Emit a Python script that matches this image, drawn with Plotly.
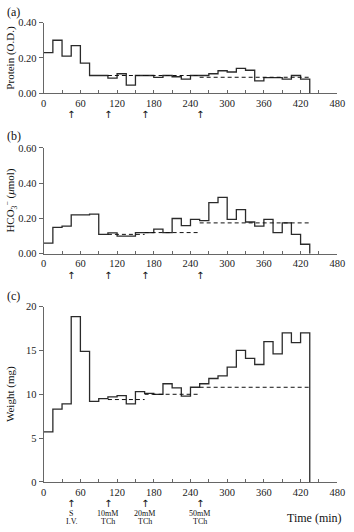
import plotly.graph_objects as go

# ---- data ----
bin_start = [0, 15, 30, 45, 60, 75, 90, 105, 120, 135, 150, 165, 180, 195, 210,
             225, 240, 255, 270, 285, 300, 315, 330, 345, 360, 375, 390, 405, 420]
bin_end = 435

protein = [0.23, 0.30, 0.21, 0.27, 0.17, 0.10, 0.10, 0.085, 0.11, 0.045, 0.10, 0.10,
           0.09, 0.10, 0.093, 0.08, 0.10, 0.10, 0.11, 0.127, 0.12, 0.14, 0.13, 0.07,
           0.088, 0.088, 0.08, 0.10, 0.08]
hco3 = [0.06, 0.15, 0.157, 0.22, 0.22, 0.225, 0.11, 0.118, 0.10, 0.10, 0.12, 0.12,
        0.14, 0.12, 0.20, 0.16, 0.195, 0.188, 0.29, 0.32, 0.195, 0.25, 0.18, 0.157,
        0.195, 0.12, 0.175, 0.11, 0.054]
weight = [5.7, 8.3, 8.9, 18.85, 14.9, 9.2, 9.5, 9.7, 9.85, 8.9, 10.3, 10.1, 10.0,
          11.2, 10.74, 9.8, 10.8, 11.2, 11.8, 12.1, 13.1, 15.0, 14.1, 13.4, 16.0,
          14.6, 17.0, 15.9, 17.0]

base_edges = [105, 165, 255, 435]
protein_base = [0.10, 0.10, 0.09]
hco3_base = [0.11, 0.12, 0.175]
weight_base = [9.4, 10.0, 10.8]

arrow_times = [45, 105, 165, 255]
arrow_line1 = ["S", "10mM", "20mM", "50mM"]
arrow_line2 = ["I.V.", "TCh", "TCh", "TCh"]

x_ticks = list(range(0, 481, 60))

W, H = 354, 532
FONT = "Liberation Serif"
LINE = "#666666"

panels = [
    dict(name="(a)", vals=protein, base=protein_base, top=18, bot=90,
         yr=[0, 0.4], ytv=[0, 0.2, 0.4], ytt=["0.00", "0.20", "0.40"],
         title="Protein (O.D.)", label_y=7),
    dict(name="(b)", vals=hco3, base=hco3_base, top=146, bot=254,
         yr=[0, 0.6], ytv=[0, 0.2, 0.4, 0.6], ytt=["0.00", "0.20", "0.40", "0.60"],
         title="HCO<sub>3</sub><sup>−</sup> (<i>μ</i>mol)", label_y=134),
    dict(name="(c)", vals=weight, base=weight_base, top=308, bot=487,
         yr=[0, 20], ytv=[0, 5, 10, 15, 20], ytt=["0", "5", "10", "15", "20"],
         title="Weight (mg)", label_y=297),
]

x0px, x1px = 42, 345

fig = go.Figure()
annotations = []

for i, p in enumerate(panels):
    idx = "" if i == 0 else str(i + 1)
    xa, ya = "x" + idx, "y" + idx
    sx = bin_start + [bin_end, bin_end]
    sy = p["vals"] + [p["vals"][-1], 0]
    fig.add_trace(go.Scatter(x=sx, y=sy, mode="lines", line_shape="hv",
                             line=dict(color="#2a2a2a", width=1.3),
                             xaxis=xa, yaxis=ya, showlegend=False, hoverinfo="skip"))
    bx, by = [], []
    for k, v in enumerate(p["base"]):
        bx += [base_edges[k], base_edges[k + 1], None]
        by += [v, v, None]
    fig.add_trace(go.Scatter(x=bx, y=by, mode="lines",
                             line=dict(color="#111111", width=1, dash="4px,3px"),
                             xaxis=xa, yaxis=ya, showlegend=False, hoverinfo="skip"))

    dom_y = [1 - p["bot"] / H, 1 - p["top"] / H]
    xkey = "xaxis" + idx
    ykey = "yaxis" + idx
    fig.update_layout(**{
        xkey: dict(domain=[x0px / W, x1px / W], range=[0, 480], anchor=ya,
                   tickmode="array", tickvals=x_ticks,
                   ticks="inside", ticklen=3, tickcolor=LINE, showline=True,
                   minor=dict(tick0=30, dtick=60, ticks="inside", ticklen=3,
                              tickcolor=LINE, showgrid=False),
                   linecolor=LINE, linewidth=1, showgrid=False, zeroline=False,
                   tickfont=dict(family=FONT, size=10.5, color="#222")),
        ykey: dict(domain=dom_y, range=p["yr"], anchor=xa,
                   tickmode="array", tickvals=p["ytv"], ticktext=p["ytt"],
                   ticks="outside", ticklen=4, tickcolor=LINE, showline=True,
                   linecolor=LINE, linewidth=1, showgrid=False, zeroline=False,
                   tickfont=dict(family=FONT, size=10.5, color="#222")),
    })
    annotations.append(dict(text=p["name"], x=2 / W, y=1 - p["label_y"] / H,
                            xref="paper", yref="paper", xanchor="left", yanchor="middle",
                            showarrow=False, font=dict(family=FONT, size=12, color="#111")))
    annotations.append(dict(text=p["title"], x=8 / W,
                            y=1 - (p["top"] + p["bot"]) / 2 / H,
                            xref="paper", yref="paper", xanchor="center", yanchor="middle",
                            textangle=-90, showarrow=False,
                            font=dict(family=FONT, size=11, color="#111")))
    tip = p["bot"] + 22
    for t in arrow_times:
        annotations.append(dict(text="↑", x=t, y=1 - tip / H, xref=xa, yref="paper",
                                xanchor="center", yanchor="middle", showarrow=False,
                                font=dict(family="DejaVu Sans", size=10, color="#111")))
    if i == 2:
        for t, l1, l2 in zip(arrow_times, arrow_line1, arrow_line2):
            annotations.append(dict(text=l1, x=t, y=1 - 519 / H, xref=xa,
                                    yref="paper", xanchor="center", yanchor="middle",
                                    showarrow=False,
                                    font=dict(family=FONT, size=8, color="#111")))
            annotations.append(dict(text=l2, x=t, y=1 - 527.5 / H, xref=xa,
                                    yref="paper", xanchor="center", yanchor="middle",
                                    showarrow=False,
                                    font=dict(family=FONT, size=8, color="#111")))

annotations.append(dict(text="Time (min)", x=352 / W, y=1 - 524 / H, xref="paper",
                        yref="paper", xanchor="right", yanchor="middle", showarrow=False,
                        font=dict(family=FONT, size=12, color="#111")))

fig.update_layout(width=W, height=H, margin=dict(l=0, r=0, t=0, b=0),
                  paper_bgcolor="white", plot_bgcolor="white",
                  annotations=annotations, showlegend=False)

fig.write_html("out.html", config={"displayModeBar": False},
               post_script="document.body.style.margin='0';document.body.style.overflow='hidden';")
